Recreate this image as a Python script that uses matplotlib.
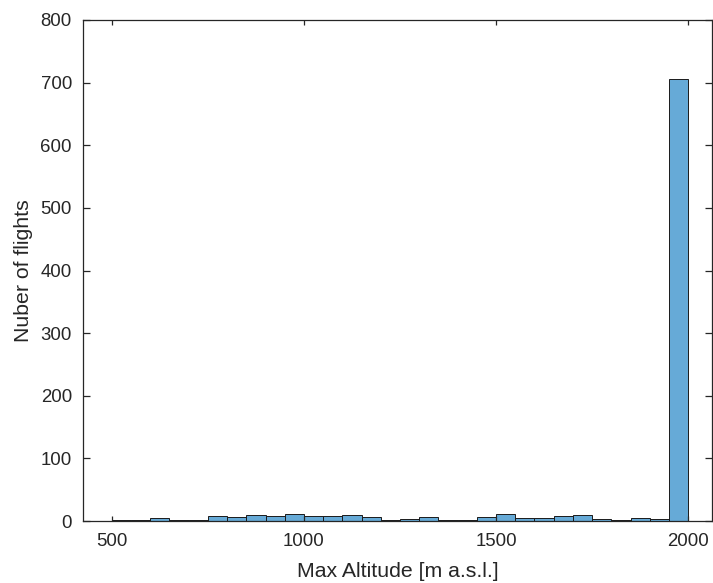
import matplotlib
matplotlib.use("Agg")
import matplotlib.pyplot as plt
import numpy as np

# histogram of max altitude per flight, 50 m bins from 500 to 2000
bin_edges = np.arange(500, 2001, 50)
counts = [2, 1, 4, 1, 1, 8, 7, 9, 8, 11,
          8, 8, 10, 7, 1, 3, 6, 1, 2, 6,
          11, 4, 5, 8, 10, 3, 1, 4, 3, 706]
xticks = [500, 1000, 1500, 2000]
yticks = [0, 100, 200, 300, 400, 500, 600, 700, 800]

TEXT = "#262626"
plt.rcParams["font.family"] = ["Liberation Sans", "DejaVu Sans"]

fig = plt.figure(figsize=(7.13, 5.83), dpi=100)
ax = fig.add_axes([83 / 713, 62 / 583, 629 / 713, 501 / 583])

ax.bar(bin_edges[:-1], counts, width=np.diff(bin_edges), align="edge",
       color="#66AAD7", edgecolor="#1a1a1a", linewidth=0.7)

ax.set_xlim(425, 2062)
ax.set_ylim(0, 800)
ax.set_xticks(xticks)
ax.set_yticks(yticks)

for s in ax.spines.values():
    s.set_color(TEXT)
    s.set_linewidth(0.9)
ax.tick_params(axis="x", direction="in", length=3.8, width=0.9, top=True,
               colors=TEXT, labelsize=13.4, pad=9)
ax.tick_params(axis="y", direction="in", length=5.3, width=0.9, right=True,
               colors=TEXT, labelsize=13.4, pad=8)

ax.set_xlabel("Max Altitude [m a.s.l.]", fontsize=15.3, color=TEXT, labelpad=8)
ax.set_ylabel("Nuber of flights", fontsize=15.3, color=TEXT, labelpad=5)

fig.savefig("out.png", dpi=100)
